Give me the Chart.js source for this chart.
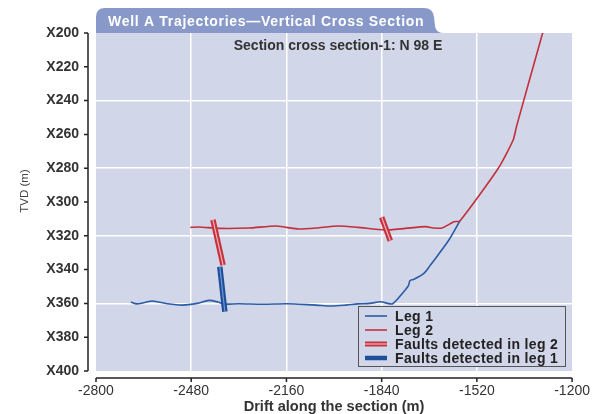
<!DOCTYPE html>
<html>
<head>
<meta charset="utf-8">
<script src="https://cdn.jsdelivr.net/npm/chart.js@4.4.0/dist/chart.umd.min.js"></script>
<style>
  html, body { margin: 0; padding: 0; background: #ffffff; }
  #wrap { width: 602px; height: 414px; }
</style>
</head>
<body>
<div id="wrap"><canvas id="chart" width="602" height="414"></canvas></div>
<script>
// Well A trajectories - vertical cross section

// Leg 1 trajectory (drift along section, TVD offset from X000)
const leg1Drift = [-2683, -2663, -2640, -2610, -2560, -2510, -2460, -2420, -2390, -2370, -2320, -2240, -2160, -2120, -2060, -2010, -1960, -1920, -1880, -1843, -1820, -1803, -1770, -1750, -1745, -1731, -1698, -1676, -1614, -1577];
const leg1Tvd = [359.2, 360.3, 359.6, 358.6, 360.2, 361, 360, 358.2, 359.2, 360.4, 360.2, 360.5, 360.2, 360.5, 361, 361.5, 361, 360.3, 360, 359, 360, 360.2, 354, 349.5, 346.6, 345.7, 342.2, 337.3, 322.5, 311.2];

// Leg 2 trajectory
const leg2Drift = [-2483, -2453, -2387, -2287, -2198, -2160, -2120, -2060, -1987, -1920, -1830, -1760, -1693, -1663, -1637, -1597, -1577, -1448, -1398, -1387, -1298];
const leg2Tvd = [315, 314.8, 315.6, 315.4, 314.2, 315, 316, 315.4, 314.2, 315, 316.6, 315.6, 314.6, 315.4, 315.4, 311.7, 311.2, 280, 263.3, 255.4, 199.4];

// Faults (start / end of each fault trace)
const faultLeg2aDrift = [-2407, -2373];
const faultLeg2aTvd = [310.6, 337.3];
const faultLeg2bDrift = [-1840, -1811];
const faultLeg2bTvd = [309, 322.9];
const faultLeg1Drift = [-2384, -2367];
const faultLeg1Tvd = [338.3, 364.9];

// Axis ticks
const driftTicks = [-2800, -2480, -2160, -1840, -1520, -1200];
const tvdTicks = [200, 220, 240, 260, 280, 300, 320, 340, 360, 380, 400];

const plotBg = '#d1d6e9';
const tabBg = '#8899c9';
const blue = '#2b5ca6';
const red = '#c1303b';
const faultRed = '#c8323f';
const faultRedInner = '#eeb4ba';
const faultBlue = '#1f4f9b';
const faultBlueInner = '#7496cf';

function toPoints(xs, ys) {
  return xs.map((x, i) => ({ x: x, y: ys[i] }));
}

// lower "order" is drawn on top
function lineSet(label, xs, ys, color, width, tension, order) {
  return {
    label: label,
    data: toPoints(xs, ys),
    showLine: true,
    borderColor: color,
    borderWidth: width,
    pointRadius: 0,
    tension: tension,
    order: order,
    borderCapStyle: 'butt',
    borderJoinStyle: 'round'
  };
}

const legendItems = [
  { text: 'Leg 1', kind: 'thin', color: blue },
  { text: 'Leg 2', kind: 'thin', color: red },
  { text: 'Faults detected in leg 2', kind: 'double', color: faultRed, inner: faultRedInner },
  { text: 'Faults detected in leg 1', kind: 'thick', color: faultBlue }
];

const decor = {
  id: 'decor',
  beforeDraw(chart) {
    const { ctx, chartArea: a } = chart;
    ctx.save();
    // plot background
    ctx.fillStyle = plotBg;
    ctx.fillRect(a.left, a.top, a.right - a.left, a.bottom - a.top);

    // title tab
    ctx.fillStyle = tabBg;
    ctx.beginPath();
    ctx.moveTo(a.left, a.top);
    ctx.lineTo(a.left, 17);
    ctx.quadraticCurveTo(a.left, 8, a.left + 9, 8);
    ctx.lineTo(424, 8);
    ctx.quadraticCurveTo(433, 8, 434, 17);
    ctx.lineTo(435, 26);
    ctx.quadraticCurveTo(436, a.top, 443, a.top);
    ctx.closePath();
    ctx.fill();

    ctx.fillStyle = '#ffffff';
    ctx.font = 'bold 14px "Liberation Sans", Arial, sans-serif';
    ctx.textBaseline = 'alphabetic';
    ctx.textAlign = 'left';
    if ('letterSpacing' in ctx) ctx.letterSpacing = '0.7px';
    ctx.fillText('Well A Trajectories\u2014Vertical Cross Section', 108, 26);
    if ('letterSpacing' in ctx) ctx.letterSpacing = '0px';
    ctx.restore();
  },
  afterDraw(chart) {
    const { ctx, chartArea: a } = chart;
    const xs = chart.scales.x;
    const ys = chart.scales.y;
    ctx.save();

    // subtitle
    ctx.fillStyle = '#333333';
    ctx.font = 'bold 14px "Liberation Sans", Arial, sans-serif';
    ctx.textAlign = 'center';
    ctx.textBaseline = 'alphabetic';
    ctx.fillText('Section cross section-1: N 98 E', 338, 49.5);

    // y axis title
    ctx.save();
    ctx.translate(25, 191);
    ctx.rotate(-Math.PI / 2);
    ctx.font = '11.5px "Liberation Sans", Arial, sans-serif';
    ctx.fillStyle = '#444444';
    ctx.textBaseline = 'middle';
    ctx.fillText('TVD (m)', 0, 0);
    ctx.restore();

    // offset axis lines with outward ticks
    ctx.strokeStyle = '#222222';
    ctx.lineWidth = 1.5;
    const yAxisX = a.left - 8;
    ctx.beginPath();
    ctx.moveTo(yAxisX, ys.getPixelForValue(tvdTicks[0]));
    ctx.lineTo(yAxisX, ys.getPixelForValue(tvdTicks[tvdTicks.length - 1]));
    tvdTicks.forEach(v => {
      const py = ys.getPixelForValue(v);
      ctx.moveTo(yAxisX - 4, py);
      ctx.lineTo(yAxisX, py);
    });
    const xAxisY = a.bottom + 7;
    ctx.moveTo(xs.getPixelForValue(driftTicks[0]), xAxisY);
    ctx.lineTo(xs.getPixelForValue(driftTicks[driftTicks.length - 1]), xAxisY);
    driftTicks.forEach(v => {
      const px = xs.getPixelForValue(v);
      ctx.moveTo(px, xAxisY);
      ctx.lineTo(px, xAxisY + 4);
    });
    ctx.stroke();

    // legend box
    const bx = 358.5, by = 306.5, bw = 207, bh = 60;
    ctx.fillStyle = plotBg;
    ctx.fillRect(bx, by, bw, bh);
    ctx.strokeStyle = '#555555';
    ctx.lineWidth = 1;
    ctx.strokeRect(bx, by, bw, bh);
    ctx.font = 'bold 14px "Liberation Sans", Arial, sans-serif';
    ctx.textAlign = 'left';
    ctx.textBaseline = 'middle';
    if ('letterSpacing' in ctx) ctx.letterSpacing = '0.35px';
    legendItems.forEach((item, i) => {
      const ly = 316 + i * 14;
      ctx.beginPath();
      ctx.moveTo(365, ly);
      ctx.lineTo(387, ly);
      ctx.strokeStyle = item.color;
      ctx.lineWidth = item.kind === 'thin' ? 1.6 : (item.kind === 'double' ? 5 : 4.5);
      ctx.stroke();
      if (item.kind === 'double') {
        ctx.strokeStyle = item.inner;
        ctx.lineWidth = 1.2;
        ctx.stroke();
      }
      ctx.fillStyle = '#222222';
      ctx.fillText(item.text, 395, ly + 1);
    });
    if ('letterSpacing' in ctx) ctx.letterSpacing = '0px';
    ctx.restore();
  }
};

Chart.defaults.font.family = '"Liberation Sans", Arial, sans-serif';

new Chart(document.getElementById('chart').getContext('2d'), {
  type: 'scatter',
  data: {
    datasets: [
      lineSet('Leg 1', leg1Drift, leg1Tvd, blue, 1.6, 0.3, 5),
      lineSet('Leg 2', leg2Drift, leg2Tvd, red, 1.6, 0.2, 4),
      lineSet('Faults detected in leg 1', faultLeg1Drift, faultLeg1Tvd, faultBlue, 5.5, 0, 3),
      lineSet('', faultLeg1Drift, faultLeg1Tvd, faultBlueInner, 1.2, 0, 2),
      lineSet('Faults detected in leg 2', faultLeg2aDrift, faultLeg2aTvd, faultRed, 5.5, 0, 1),
      lineSet('', faultLeg2aDrift, faultLeg2aTvd, faultRedInner, 1.2, 0, 0),
      lineSet('', faultLeg2bDrift, faultLeg2bTvd, faultRed, 5.5, 0, 1),
      lineSet('', faultLeg2bDrift, faultLeg2bTvd, faultRedInner, 1.2, 0, 0)
    ]
  },
  options: {
    responsive: false,
    animation: false,
    devicePixelRatio: 1,
    layout: { padding: { top: 33, right: 26, left: 0, bottom: 0 } },
    plugins: {
      legend: { display: false },
      tooltip: { enabled: false },
      title: { display: false }
    },
    scales: {
      x: {
        type: 'linear',
        min: -2800,
        max: -1200,
        afterBuildTicks: s => { s.ticks = driftTicks.map(v => ({ value: v })); },
        afterFit: s => { s.height = 43; },
        border: { display: false },
        grid: {
          drawTicks: false,
          lineWidth: 1.5,
          color: c => (c.tick && c.tick.value > -2800 && c.tick.value < -1200) ? '#ffffff' : 'rgba(0,0,0,0)'
        },
        ticks: {
          padding: 12,
          color: '#333333',
          font: { size: 14 },
          maxRotation: 0,
          callback: v => String(v)
        },
        title: {
          display: true,
          text: 'Drift along the section (m)',
          color: '#333333',
          font: { size: 14.6, weight: 'bold', lineHeight: 1 },
          padding: { top: 0, bottom: 0 }
        }
      },
      y: {
        type: 'linear',
        reverse: true,
        min: 200,
        max: 400,
        afterBuildTicks: s => { s.ticks = tvdTicks.map(v => ({ value: v })); },
        afterFit: s => { s.width = 96; },
        border: { display: false },
        grid: {
          drawTicks: false,
          lineWidth: 1.5,
          color: c => (c.tick && c.tick.value % 40 === 0 && c.tick.value > 200 && c.tick.value < 400) ? '#ffffff' : 'rgba(0,0,0,0)'
        },
        ticks: {
          padding: 17,
          color: '#333333',
          font: { size: 14, weight: 'bold' },
          callback: v => 'X' + v
        }
      }
    }
  },
  plugins: [decor]
});
</script>
</body>
</html>
